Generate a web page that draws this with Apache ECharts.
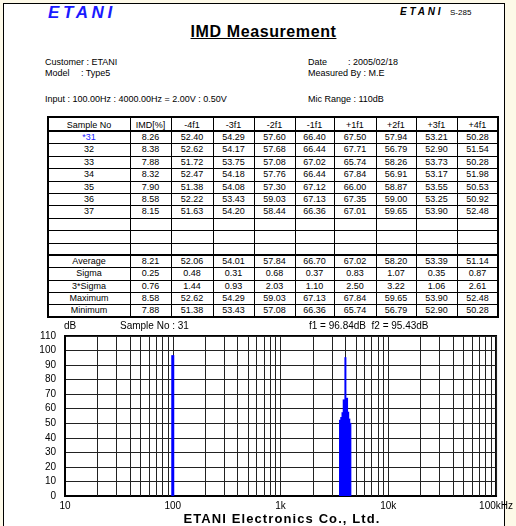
<!DOCTYPE html>
<html lang="en">
<head>
    <meta charset="UTF-8">
    <title>IMD Measurement</title>
    <script src="https://cdn.jsdelivr.net/npm/echarts@6.0.0/dist/echarts.min.js"></script>
    <style>
        body{
            margin:0;
            width:516px;
            height:526px;
            overflow:hidden;
            background-color:#fdf9e8;
            font-family:"Liberation Sans",Arial,sans-serif;
            color:#000;
        }
        .page{
            position:absolute;
            left:3px;top:3px;
            width:500px;height:540px;
            border:1px solid #000;
            background:#fff;
        }
        .t{
            position:absolute;
            white-space:pre;
            font-size:9px;
            line-height:12px;
        }
        .ln{position:absolute;background:#000;}
        .cell{
            position:absolute;
            text-align:center;
            font-size:9px;
            white-space:pre;
        }
        #chart{
            position:absolute;
            left:0;top:320px;
            width:516px;height:206px;
        }
    </style>
</head>
<body>
<div class="page"></div>

<div class="t" style="left:48px;top:4px;font-size:17px;line-height:18px;font-weight:bold;font-style:italic;letter-spacing:3.6px;color:#1a1aff;">ETANI</div>
<div class="t" style="left:400px;top:6px;font-size:10px;font-weight:bold;font-style:italic;letter-spacing:2.8px;">ETANI</div>
<div class="t" style="left:450px;top:7px;font-size:8px;">S-285</div>
<div class="t" style="left:150px;width:227px;text-align:center;top:22px;font-size:16px;line-height:20px;font-weight:bold;letter-spacing:0.6px;text-decoration:underline;">IMD Measurement</div>

<div class="t" style="left:45px;top:56px;">Customer : ETANI</div>
<div class="t" style="left:45px;top:67px;">Model</div>
<div class="t" style="left:81px;top:67px;">: Type5</div>
<div class="t" style="left:308px;top:56px;">Date</div>
<div class="t" style="left:348px;top:56px;">: 2005/02/18</div>
<div class="t" style="left:308px;top:67px;">Measured By : M.E</div>
<div class="t" style="left:45px;top:93px;">Input : 100.00Hz : 4000.00Hz = 2.00V : 0.50V</div>
<div class="t" style="left:308px;top:93px;">Mic Range : 110dB</div>

<div id="table"></div>
<div id="chart"></div>

<div class="t" style="left:160px;width:244px;text-align:center;top:511px;font-size:13px;line-height:15px;font-weight:bold;letter-spacing:1.1px;">ETANI Electronics Co., Ltd.</div>

<script>
    // ---- table data ----
    var columns = ['Sample No','IMD[%]','-4f1','-3f1','-2f1','-1f1','+1f1','+2f1','+3f1','+4f1'];
    var sampleNo = ['*31','32','33','34','35','36','37'];
    var imd  = [8.26, 8.38, 7.88, 8.32, 7.90, 8.58, 8.15];
    var m4f1 = [52.40, 52.62, 51.72, 52.47, 51.38, 52.22, 51.63];
    var m3f1 = [54.29, 54.17, 53.75, 54.18, 54.08, 53.43, 54.20];
    var m2f1 = [57.60, 57.68, 57.08, 57.76, 57.30, 59.03, 58.44];
    var m1f1 = [66.40, 66.44, 67.02, 66.44, 67.12, 67.13, 66.36];
    var p1f1 = [67.50, 67.71, 65.74, 67.84, 66.00, 67.35, 67.01];
    var p2f1 = [57.94, 56.79, 58.26, 56.91, 58.87, 59.00, 59.65];
    var p3f1 = [53.21, 52.90, 53.73, 53.17, 53.55, 53.25, 53.90];
    var p4f1 = [50.28, 51.54, 50.28, 51.98, 50.53, 50.92, 52.48];

    var statNames  = ['Average','Sigma','3*Sigma','Maximum','Minimum'];
    var statAvg    = [8.21, 52.06, 54.01, 57.84, 66.70, 67.02, 58.20, 53.39, 51.14];
    var statSigma  = [0.25, 0.48, 0.31, 0.68, 0.37, 0.83, 1.07, 0.35, 0.87];
    var stat3Sigma = [0.76, 1.44, 0.93, 2.03, 1.10, 2.50, 3.22, 1.06, 2.61];
    var statMax    = [8.58, 52.62, 54.29, 59.03, 67.13, 67.84, 59.65, 53.90, 52.48];
    var statMin    = [7.88, 51.38, 53.43, 57.08, 66.36, 65.74, 56.79, 52.90, 50.28];

    // ---- spectrum data (sample 31) ----
    var currentSample = '31';
    var f1Level = 96.84;
    var f2Level = 95.43;
    var f2Hz = 4000;
    var spectrumHz = [100, 3600, 3700, 3800, 3900, 4000, 4100, 4200, 4300, 4400];
    var spectrumDb = [96.84, 52.40, 54.29, 57.60, 66.40, 95.43, 67.50, 57.94, 53.21, 50.28];

    var yTicks = [0,10,20,30,40,50,60,70,80,90,100,110];
    var xLabels = {10:'10', 100:'100', 1000:'1k', 10000:'10k', 100000:'100kHz'};

    // ---- build table ----
    var colX = [48,130,171,213,254,295,334,376,416,457,498];
    var tableTop = 117, headH = 14, rowH = 12.4, statH = 12.35;
    var box = document.getElementById('table');

    function line(x,y,w,h){
        var d = document.createElement('div');
        d.className = 'ln';
        d.style.left = x+'px'; d.style.top = y+'px';
        d.style.width = w+'px'; d.style.height = h+'px';
        box.appendChild(d);
    }
    function cell(c,y,h,txt,color){
        var d = document.createElement('div');
        d.className = 'cell';
        d.style.left = colX[c]+'px';
        d.style.width = (colX[c+1]-colX[c])+'px';
        d.style.top = y+'px';
        d.style.height = h+'px';
        d.style.lineHeight = h+'px';
        if(color) d.style.color = color;
        d.textContent = txt;
        box.appendChild(d);
    }

    var rows = [];
    var body = [imd,m4f1,m3f1,m2f1,m1f1,p1f1,p2f1,p3f1,p4f1];
    for(var i=0;i<10;i++){
        if(i<sampleNo.length){
            var r = [sampleNo[i]];
            for(var k=0;k<body.length;k++) r.push(body[k][i].toFixed(2));
            rows.push(r);
        }else{
            rows.push(null);
        }
    }
    var stats = [statAvg,statSigma,stat3Sigma,statMax,statMin];

    var y = tableTop;
    columns.forEach(function(c,ci){ cell(ci,y+1,headH,c); });
    y += headH;
    var hLines = [{y:y,t:2}];
    rows.forEach(function(r){
        if(r){
            r.forEach(function(v,ci){ cell(ci,y,rowH,v, (ci===0 && v.charAt(0)==='*') ? '#1a1aff' : null); });
        }
        y += rowH;
        hLines.push({y:y,t:1});
    });
    hLines[hLines.length-1].t = 2;
    stats.forEach(function(s,si){
        cell(0,y,statH,statNames[si]);
        s.forEach(function(v,k){ cell(k+1,y,statH,v.toFixed(2)); });
        y += statH;
        hLines.push({y:y,t:1});
    });
    var tableBottom = y;
    hLines.pop();
    hLines.forEach(function(h){ line(colX[0], Math.round(h.y)-(h.t>1?1:0), colX[colX.length-1]-colX[0], h.t); });
    // outer frame
    line(colX[0]-1, tableTop-1, colX[colX.length-1]-colX[0]+2, 2);
    line(colX[0]-1, Math.round(tableBottom)-1, colX[colX.length-1]-colX[0]+2, 2);
    line(colX[0]-1, tableTop-1, 2, Math.round(tableBottom)-tableTop+2);
    line(colX[colX.length-1]-1, tableTop-1, 2, Math.round(tableBottom)-tableTop+2);
    for(var c=1;c<colX.length-1;c++){
        line(colX[c], tableTop, 1, Math.round(tableBottom)-tableTop);
    }

    // ---- spectrum chart ----
    var minorGridHz = [];
    [10,100,1000,10000].forEach(function(d){
        for(var m=2;m<=9;m++) minorGridHz.push({xAxis: m*d});
    });

    var chart = echarts.init(document.getElementById('chart'));
    var option = {
        animation:false,
        textStyle:{fontFamily:'Liberation Sans, Arial, sans-serif'},
        grid:{
            left:65, right:18, top:16, bottom:30,
            show:true, borderColor:'#000', borderWidth:2, backgroundColor:'#fff'
        },
        graphic:[
            {type:'text', left:64, top:1, style:{text:'dB', fontSize:10, fill:'#000', fontFamily:'Liberation Sans'}},
            {type:'text', left:120, top:1, style:{text:'Sample No : '+currentSample, fontSize:10, fill:'#000', fontFamily:'Liberation Sans'}},
            {type:'text', left:309, top:1, style:{text:'f1 = '+f1Level.toFixed(2)+'dB  f2 = '+f2Level.toFixed(2)+'dB', fontSize:10, fill:'#000', fontFamily:'Liberation Sans'}}
        ],
        xAxis:{
            type:'log', logBase:10, min:10, max:100000,
            axisLine:{show:true, lineStyle:{color:'#000', width:2}},
            axisTick:{show:false},
            axisLabel:{
                color:'#000', fontSize:10, margin:5,
                formatter:function(v){ return xLabels[Math.round(v)] || ''; }
            },
            splitLine:{show:true, lineStyle:{color:'#222', width:1}}
        },
        yAxis:{
            type:'value', min:0, max:110, interval:10,
            axisLine:{show:true, lineStyle:{color:'#000', width:2}},
            axisTick:{show:false},
            axisLabel:{color:'#000', fontSize:10, margin:9,
                formatter:function(v){ return yTicks.indexOf(v)>=0 ? String(v) : ''; }},
            splitLine:{show:true, lineStyle:{color:'#222', width:1}}
        },
        series:[
            {
                type:'line', data:[], z:1, silent:true,
                markLine:{
                    silent:true, symbol:['none','none'], label:{show:false},
                    lineStyle:{color:'#222', width:1, type:'solid'},
                    data:minorGridHz
                }
            },
            {
                type:'custom', z:5,
                data: spectrumHz.map(function(hz,i){ return [hz, spectrumDb[i]]; }),
                renderItem:function(params, api){
                    var hz = api.value(0);
                    var top = api.coord([hz, api.value(1)]);
                    var base = api.coord([hz, 0]);
                    var w = hz === f2Hz ? 2 : 3;
                    return {
                        type:'rect',
                        shape:{x:top[0]-w/2, y:top[1], width:w, height:base[1]-top[1]},
                        style:{fill:'#0000ff'}
                    };
                }
            }
        ]
    };
    chart.setOption(option);
</script>
</body>
</html>
